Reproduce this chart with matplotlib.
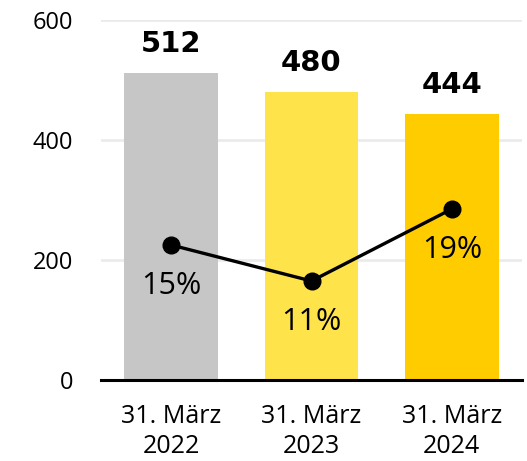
import matplotlib
matplotlib.use("Agg")
import matplotlib.pyplot as plt

categories = ["31. März\n2022", "31. März\n2023", "31. März\n2024"]
bar_values = [512, 480, 444]
pct_values = [15, 11, 19]
pct_labels = ["15%", "11%", "19%"]
bar_colors = ["#c6c6c6", "#ffe34b", "#ffcc00"]
y_ticks = [0, 200, 400, 600]

plt.rcParams['font.family'] = ['Open Sans', 'DejaVu Sans']

fig = plt.figure(figsize=(5.27, 4.61), dpi=100)
ax = fig.add_axes([101/527, 1-380/461, 421/527, 360/461])
x = list(range(len(categories)))
ax.bar(x, bar_values, width=0.667, color=bar_colors, zorder=2)
ax.set_xlim(-0.5, 2.5)
ax.set_ylim(0, 600)
ax.set_yticks(y_ticks)
ax.set_yticklabels([str(v) for v in y_ticks], fontsize=17)
ax.set_xticks(x)
ax.set_xticklabels(categories, fontsize=18, linespacing=1.3)
ax.tick_params(axis='both', length=0)
ax.tick_params(axis='y', pad=20)
ax.tick_params(axis='x', pad=17)
for v in y_ticks[1:]:
    ax.axhline(v, color="#ebebeb", lw=2, zorder=1)
for s in ['top', 'right', 'left']:
    ax.spines[s].set_visible(False)
ax.spines['bottom'].set_linewidth(2.2)
ax.spines['bottom'].set_color('black')
ax.spines['bottom'].set_zorder(3)

for xi, v in zip(x, bar_values):
    ax.annotate(str(v), (xi, v), xytext=(0, 15), textcoords='offset points',
                ha='center', va='baseline', fontsize=21, fontweight='bold',
                family='DejaVu Sans')

ax2 = ax.twinx()
ax2.set_ylim(0, 40)
ax2.axis('off')
ax2.plot(x, pct_values, color='black', lw=2.4, marker='o', markersize=12, zorder=4)
for xi, v, lab in zip(x, pct_values, pct_labels):
    ax2.annotate(lab, (xi, v), xytext=(0, -35), textcoords='offset points',
                 ha='center', va='baseline', fontsize=22)

fig.savefig("out.png", dpi=100)
